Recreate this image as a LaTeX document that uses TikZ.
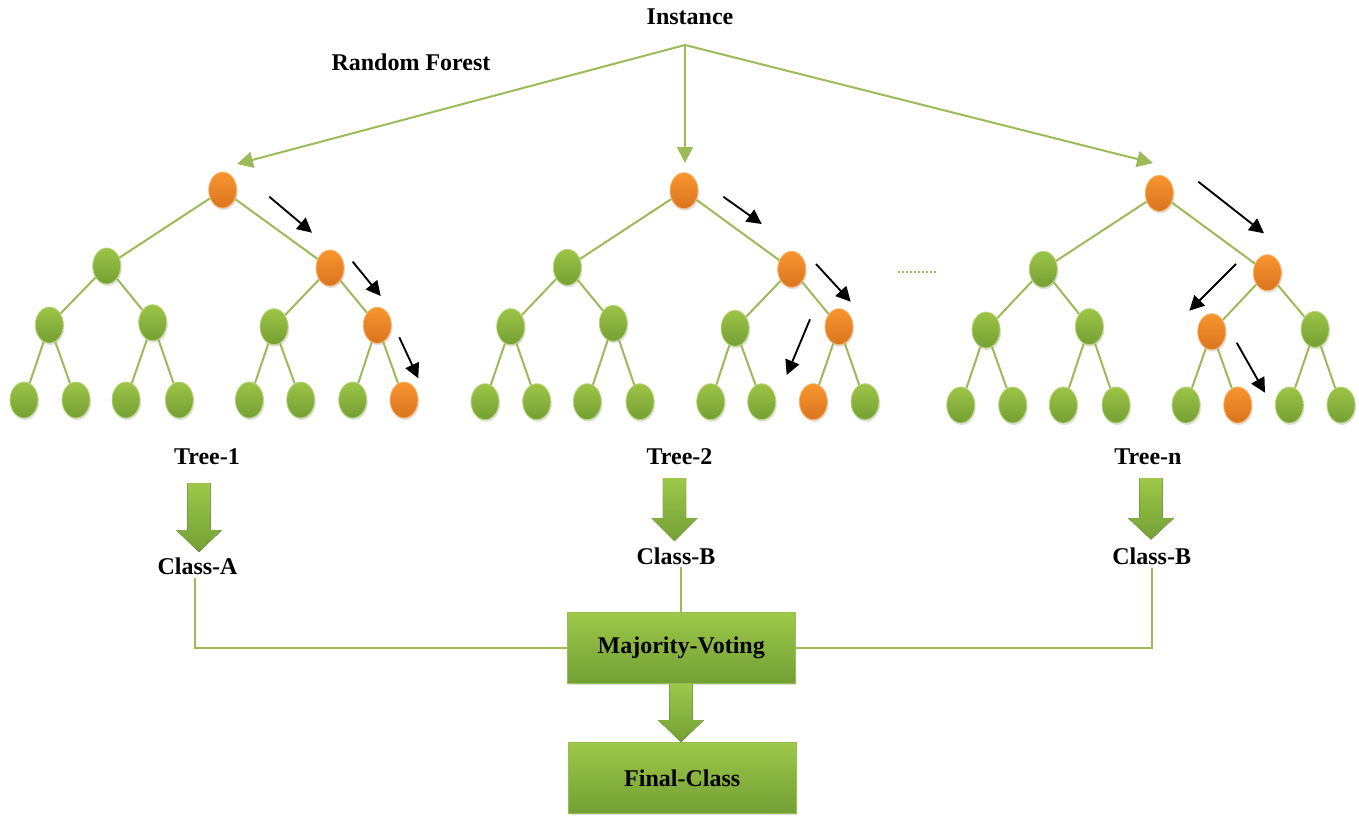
\documentclass[tikz,border=0pt]{standalone}
\usepackage{fontspec}
\setmainfont{Liberation Serif}
\usetikzlibrary{arrows.meta,shadows,shapes.geometric,calc}
\definecolor{lgreen}{HTML}{9BBB59}
\definecolor{ntop}{HTML}{9CC446}
\definecolor{nbot}{HTML}{74A034}
\definecolor{otop}{HTML}{F8952E}
\definecolor{obot}{HTML}{DA7420}
\definecolor{btop}{HTML}{9DC84A}
\definecolor{bbot}{HTML}{72A034}
\newcommand\bkarrow[4]{\fill[top color=btop,bottom color=bbot] (#1-11.7,#2) -- (#1+11.7,#2) -- (#1+11.7,#3) -- (#1+23,#3) -- (#1,#4) -- (#1-23,#3) -- (#1-11.7,#3) -- cycle;}
\begin{document}
\begin{tikzpicture}[x=0.75pt,y=-0.75pt,
  gn/.style={ellipse, minimum width=21pt, minimum height=27pt, inner sep=0pt,
    top color=ntop, bottom color=nbot, draw=ntop!70!white, line width=0.6pt,
    drop shadow={opacity=0.25, shadow xshift=0.8pt, shadow yshift=-1.5pt}},
  on/.style={gn, top color=otop, bottom color=obot, draw=otop!70!white},
  ed/.style={lgreen, line width=1.5pt},
  garr/.style={lgreen, line width=1.5pt, -{Triangle[length=12pt,width=12pt]}},
  barr/.style={black, line width=1.4pt, -{Triangle[length=11pt,width=11pt]}},
  lab/.style={font=\bfseries\fontsize{18}{20}\selectfont, inner sep=2pt},
  box/.style={rectangle, minimum width=170.8pt, minimum height=53pt, top color=btop, bottom color=bbot,
    draw={rgb,255:red,150;green,190;blue,80}, line width=0.8pt,
    drop shadow={opacity=0.25, shadow xshift=1pt, shadow yshift=-1.5pt},
    font=\bfseries\fontsize{18}{20}\selectfont}]
\useasboundingbox (0,0) rectangle (1359,815);

% ---------- Tree 1 ----------
\node[on] (ar) at (222.7,190) {};
\node[gn] (aL) at (106.7,266) {};
\node[on] (aR) at (330,268) {};
\node[gn] (aLL) at (49.3,325) {};
\node[gn] (aLR) at (152.7,322.7) {};
\node[gn] (aRL) at (274,326.7) {};
\node[on] (aRR) at (377.3,325.3) {};
\node[gn] (a1) at (24,400) {};
\node[gn] (a2) at (76,400) {};
\node[gn] (a3) at (126,400) {};
\node[gn] (a4) at (179.3,400) {};
\node[gn] (a5) at (249.3,400) {};
\node[gn] (a6) at (300.7,400) {};
\node[gn] (a7) at (352.7,400) {};
\node[on] (a8) at (404,400) {};

% ---------- Tree 2 ----------
\node[on] (br) at (684,190.7) {};
\node[gn] (bL) at (567.3,267.3) {};
\node[on] (bR) at (791.7,269.3) {};
\node[gn] (bLL) at (510.7,326.7) {};
\node[gn] (bLR) at (613.3,323.3) {};
\node[gn] (bRL) at (735,328.3) {};
\node[on] (bRR) at (839,326.7) {};
\node[gn] (b1) at (485,401.7) {};
\node[gn] (b2) at (536.7,401.7) {};
\node[gn] (b3) at (587.3,401.7) {};
\node[gn] (b4) at (640,401.7) {};
\node[gn] (b5) at (710.7,401.7) {};
\node[gn] (b6) at (761.7,401.7) {};
\node[on] (b7) at (813.3,401.7) {};
\node[gn] (b8) at (865,401.7) {};

% ---------- Tree n ----------
\node[on] (cr) at (1159.3,193.3) {};
\node[gn] (cL) at (1043.3,269.3) {};
\node[on] (cR) at (1267.3,272.7) {};
\node[gn] (cLL) at (986,330) {};
\node[gn] (cLR) at (1089.3,326.7) {};
\node[on] (cRL) at (1211.7,331.7) {};
\node[gn] (cRR) at (1315,329.3) {};
\node[gn] (c1) at (960.7,405) {};
\node[gn] (c2) at (1012.7,405) {};
\node[gn] (c3) at (1063.3,405) {};
\node[gn] (c4) at (1116,405) {};
\node[gn] (c5) at (1186,405) {};
\node[on] (c6) at (1237.7,405) {};
\node[gn] (c7) at (1289.3,405) {};
\node[gn] (c8) at (1341,405) {};

% tree edges
\foreach \t in {a,b,c}{
  \foreach \p/\q in {r/L, r/R, L/LL, L/LR, R/RL, R/RR, LL/1, LL/2, LR/3, LR/4, RL/5, RL/6, RR/7, RR/8}
    \draw[ed] (\t\p) -- (\t\q);
}

% ---------- top ----------
\node[lab] (inst) at (690,17) {Instance};
\node[lab] (rf) at (411,62) {Random Forest};
\coordinate (j) at (685,45);
\coordinate (tA) at (237,164);
\coordinate (tB) at (685,163);
\coordinate (tC) at (1153,163);
\draw[garr] (j) -- (tA);
\draw[garr] (j) -- (tB);
\draw[garr] (j) -- (tC);

% black path arrows
\coordinate (p1s) at (269.3,196.7); \coordinate (p1e) at (312,232.7);
\coordinate (p2s) at (352.7,261.7); \coordinate (p2e) at (380.7,296);
\coordinate (p3s) at (399.3,337.3); \coordinate (p3e) at (418.3,378.3);
\coordinate (q1s) at (723.3,196.7); \coordinate (q1e) at (761.7,224);
\coordinate (q2s) at (816,264);     \coordinate (q2e) at (850.7,301.7);
\coordinate (q3s) at (810,319.3);   \coordinate (q3e) at (786.7,375);
\coordinate (s1s) at (1198.3,181.7); \coordinate (s1e) at (1264,233.3);
\coordinate (s2s) at (1236,264);     \coordinate (s2e) at (1189.3,310.7);
\coordinate (s3s) at (1236.7,342.7); \coordinate (s3e) at (1265,392.7);
\foreach \u in {p1,p2,p3,q1,q2,q3,s1,s2,s3}
  \draw[barr] (\u s) -- (\u e);

% dots between trees
\draw[lgreen, line width=1.5pt, dash pattern=on 1.5pt off 1.5pt] (898,272) -- (937,272);

% ---------- bottom ----------
\node[lab] (t1) at (207,457) {Tree-1};
\node[lab] (t2) at (679.5,457) {Tree-2};
\node[lab] (tn) at (1148,457) {Tree-n};
\bkarrow{199}{483}{530}{552}
\bkarrow{674.5}{478}{518}{541}
\bkarrow{1151}{478}{518}{539.5}
\node[lab] (ca) at (197.5,566.5) {Class-A};
\node[lab] (cb) at (676,556) {Class-B};
\node[lab] (cn) at (1151.7,556.5) {Class-B};

\node[box] (mv) at (681.2,648) {Majority-Voting};
\node[box] (fc) at (682.2,778) {Final-Class};
\bkarrow{681}{684}{720}{742}

\draw[ed] ([xshift=-2pt]ca.south) |- (mv.west);
\draw[ed] (cb.south -| mv.north) -- (mv.north);
\draw[ed] (cn.south) |- (mv.east);
\end{tikzpicture}
\end{document}
